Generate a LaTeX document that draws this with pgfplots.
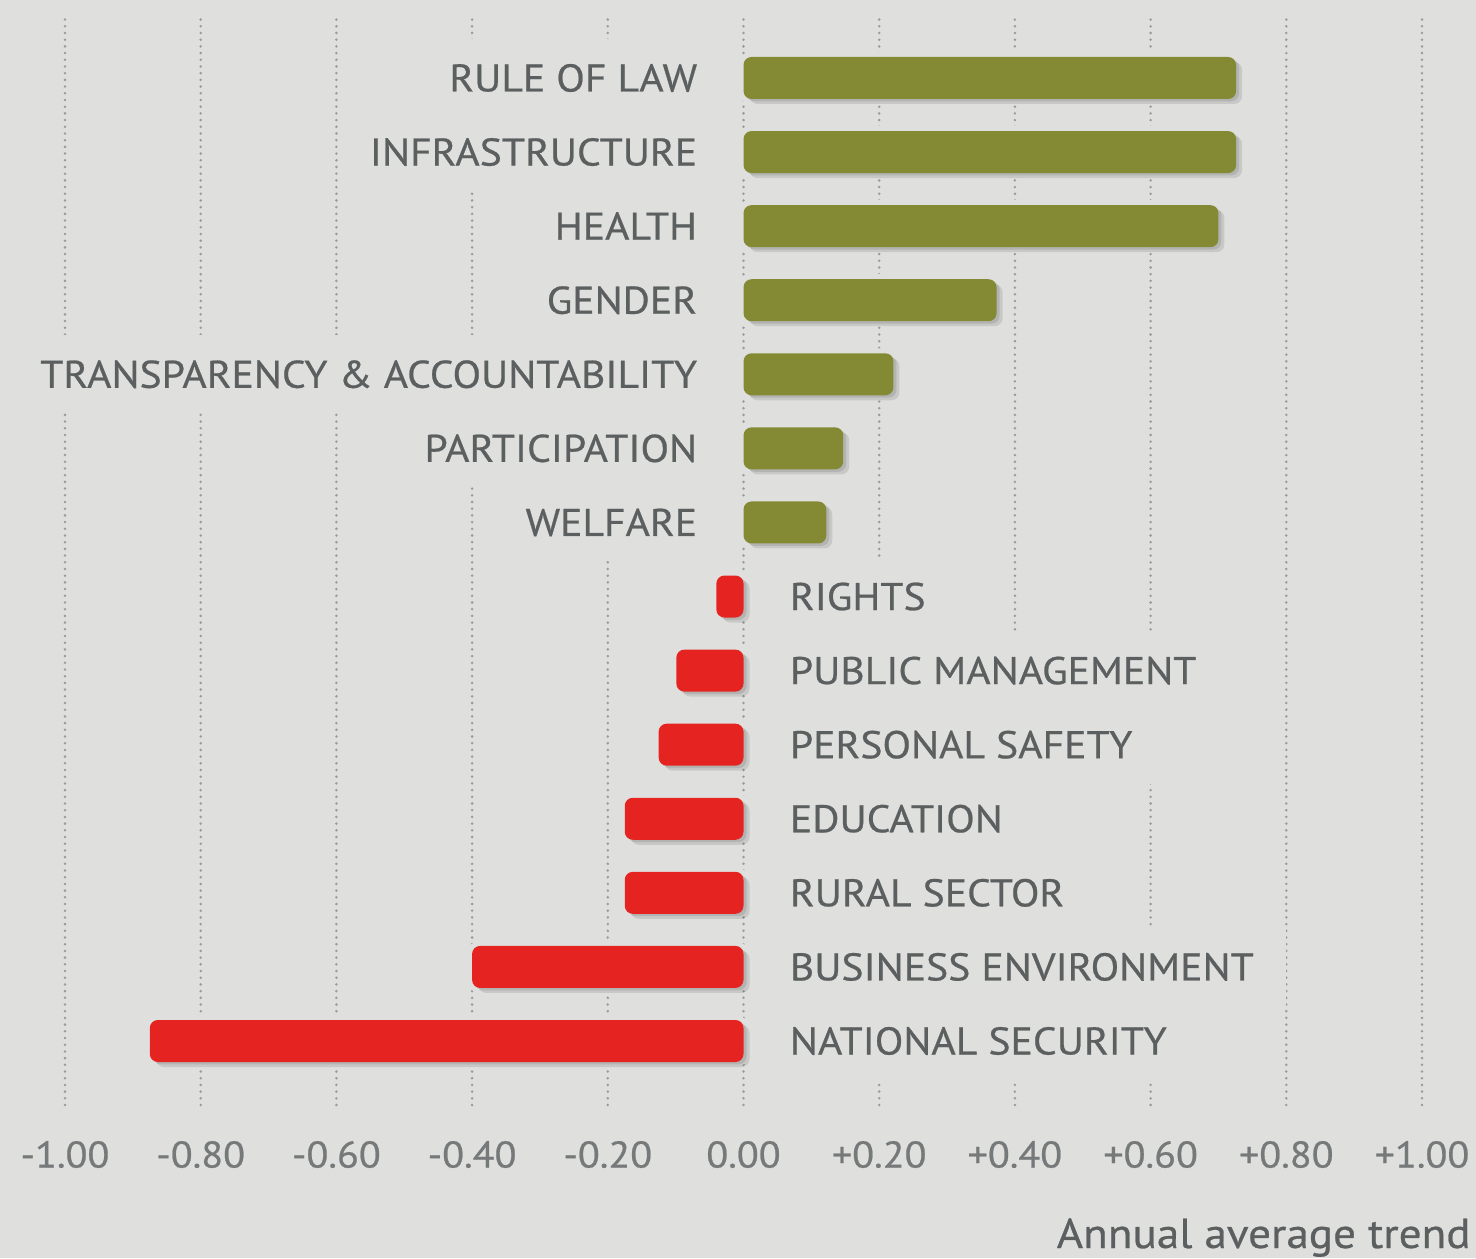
\documentclass[border=0pt]{standalone}
\usepackage{pgfplots}
\pgfplotsset{compat=1.18}
\usepackage{fontspec}
\setmainfont{PT Sans}[FakeStretch=1.08, FakeBold=0.6]
\definecolor{bg}{HTML}{DFE0DE}
\definecolor{gbar}{HTML}{838A33}
\definecolor{rbar}{HTML}{E52421}
\definecolor{labc}{HTML}{5B5F60}
\definecolor{tickc}{HTML}{76797A}
\definecolor{gridc}{HTML}{9A9C9C}
\tikzset{
  lab/.style={fill=bg, text=labc, font=\fontsize{19.3}{23}\selectfont,
    inner xsep=16pt, inner ysep=0pt, minimum height=39pt,
    text height=13.5pt, text depth=0pt},
  labL/.style={lab, anchor=east, xshift=-7pt},
  labR/.style={lab, anchor=west, xshift=7pt},
}
\begin{document}
\begin{tikzpicture}
\fill[bg] (-32.5pt,-76.5pt) rectangle (705.5pt,552.5pt);
\begin{axis}[
  at={(0,0)}, anchor=south west, scale only axis,
  width=678.5pt, height=545.5pt,
  xmin=-1, xmax=1, ymin=-0.864, ymax=13.864,
  clip=false,
  axis line style={draw=none},
  ytick=\empty,
  xtick={-1,-0.8,-0.6,-0.4,-0.2,0,0.2,0.4,0.6,0.8,1},
  xticklabels={-1.00,-0.80,-0.60,-0.40,-0.20,0.00,+0.20,+0.40,+0.60,+0.80,+1.00},
  major tick length=0pt,
  xmajorgrids,
  major grid style={color=gridc, line width=1.4pt, dash pattern=on 0pt off 3.35pt, line cap=round},
  xticklabel style={font=\fontsize{18.6}{22}\selectfont, text=tickc, yshift=-14.5pt},
  xbar, bar width=21pt,
]
% halo (hides gridlines around bars)
\addplot[bar shift=0pt, fill=bg, draw=bg, line width=5pt, rounded corners=4pt] coordinates {
 (0.726,13) (0.726,12) (0.700,11) (0.373,10) (0.221,9) (0.147,8) (0.122,7)
 (-0.040,6) (-0.099,5) (-0.125,4) (-0.175,3) (-0.175,2) (-0.400,1) (-0.875,0)};
% shadows
\addplot[bar shift=0pt, fill=black, draw=none, opacity=0.10, xshift=3pt, yshift=-2.5pt, rounded corners=4pt] coordinates {
 (0.726,13) (0.726,12) (0.700,11) (0.373,10) (0.221,9) (0.147,8) (0.122,7)
 (-0.040,6) (-0.099,5) (-0.125,4) (-0.175,3) (-0.175,2) (-0.400,1) (-0.875,0)};
\addplot[bar shift=0pt, fill=black, draw=none, opacity=0.10, xshift=1.5pt, yshift=-1.2pt, rounded corners=4pt] coordinates {
 (0.726,13) (0.726,12) (0.700,11) (0.373,10) (0.221,9) (0.147,8) (0.122,7)
 (-0.040,6) (-0.099,5) (-0.125,4) (-0.175,3) (-0.175,2) (-0.400,1) (-0.875,0)};
% positive bars
\addplot[bar shift=0pt, fill=gbar, draw=none, rounded corners=4pt] coordinates {
 (0.726,13) (0.726,12) (0.700,11) (0.373,10) (0.221,9) (0.147,8) (0.122,7)};
% negative bars
\addplot[bar shift=0pt, fill=rbar, draw=none, rounded corners=4pt] coordinates {
 (-0.040,6) (-0.099,5) (-0.125,4) (-0.175,3) (-0.175,2) (-0.400,1) (-0.875,0)};

\node[labL] at (axis cs:0,13) {RULE OF LAW};
\node[labL] at (axis cs:0,12) {INFRASTRUCTURE};
\node[labL] at (axis cs:0,11) {HEALTH};
\node[labL] at (axis cs:0,10) {GENDER};
\node[labL] at (axis cs:0,9) {TRANSPARENCY \& ACCOUNTABILITY};
\node[labL] at (axis cs:0,8) {PARTICIPATION};
\node[labL] at (axis cs:0,7) {WELFARE};
\node[labR] at (axis cs:0,6) {RIGHTS};
\node[labR] at (axis cs:0,5) {PUBLIC MANAGEMENT};
\node[labR] at (axis cs:0,4) {PERSONAL SAFETY};
\node[labR] at (axis cs:0,3) {EDUCATION};
\node[labR] at (axis cs:0,2) {RURAL SECTOR};
\node[labR] at (axis cs:0,1) {BUSINESS ENVIRONMENT};
\node[labR] at (axis cs:0,0) {NATIONAL SECURITY};
\end{axis}
\node[anchor=base east, text=labc, font=\fontsize{20.9}{25}\selectfont, inner sep=0pt] at (703pt,-71.5pt) {Annual average trend};
\pgfresetboundingbox
\useasboundingbox (-32.5pt,-76.5pt) rectangle (705.5pt,552.5pt);
\end{tikzpicture}
\end{document}
